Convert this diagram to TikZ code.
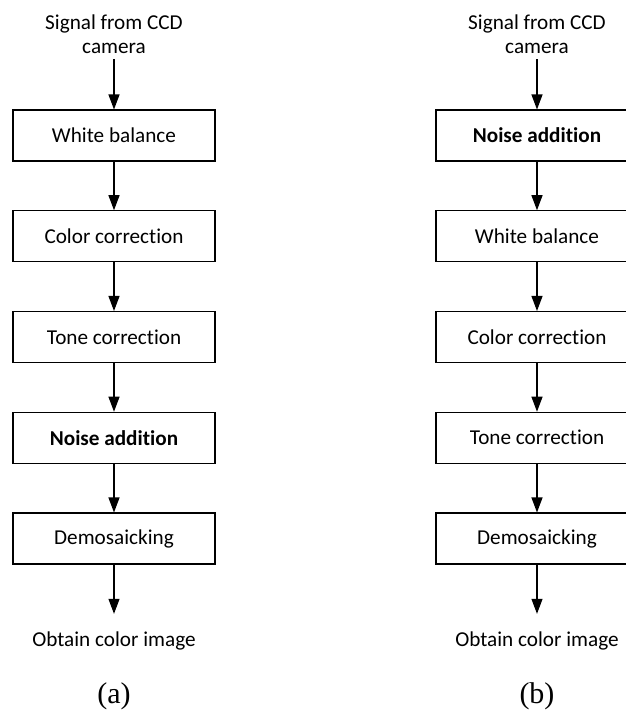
\documentclass[tikz,border=0pt]{standalone}
\usepackage{fontspec}
\setmainfont{Carlito}[Ligatures=NoCommon]
\newfontfamily\capfont{Liberation Serif}
\usepackage{tikz}
\usetikzlibrary{arrows.meta}

\tikzset{
  stage/.style={draw, line width=0.55pt, minimum width=101pt, minimum height=25.5pt,
    inner sep=0pt, font=\fontsize{10.6}{12}\selectfont},
  source/.style={inner sep=0pt, outer sep=3pt, align=center, font=\fontsize{10.6}{12}\selectfont},
  sink/.style={inner sep=0pt, outer sep=9pt, font=\fontsize{10.6}{12}\selectfont},
  caption/.style={inner sep=0pt, font=\capfont\fontsize{15}{17}\selectfont},
  flow/.style={-{Triangle[length=7.5pt,width=5.5pt]}, line width=0.55pt}
}

\begin{document}
\begin{tikzpicture}[x=0.5pt, y=-0.5pt]
    \useasboundingbox (0,0) rectangle (626,720);
    % ---- (a) ----
    \begin{scope}
      \node[source] (a0) at (114,34) {Signal from CCD\\camera};
      \node[stage] (a1) at (114,135.5) {White balance};
      \node[stage] (a2) at (114,236.25) {Color correction};
      \node[stage] (a3) at (114,337) {Tone correction};
      \node[stage] (a4) at (114,437.75) {\bfseries Noise addition};
      \node[stage] (a5) at (114,538.5) {Demosaicking};
      \node[sink] (a6) at (114,641) {Obtain color image};
      \node[caption] (acap) at (114,696) {(a)};
      \draw[flow] (a0) -- (a1);
      \draw[flow] (a1) -- (a2);
      \draw[flow] (a2) -- (a3);
      \draw[flow] (a3) -- (a4);
      \draw[flow] (a4) -- (a5);
      \draw[flow] (a5) -- (a6);
    \end{scope}
    % ---- (b) ----
    \begin{scope}[xshift=211.5pt]
      \node[source] (b0) at (114,34) {Signal from CCD\\camera};
      \node[stage] (b1) at (114,135.5) {\bfseries Noise addition};
      \node[stage] (b2) at (114,236.25) {White balance};
      \node[stage] (b3) at (114,337) {Color correction};
      \node[stage] (b4) at (114,437.75) {Tone correction};
      \node[stage] (b5) at (114,538.5) {Demosaicking};
      \node[sink] (b6) at (114,641) {Obtain color image};
      \node[caption] (bcap) at (114,696) {(b)};
      \draw[flow] (b0) -- (b1);
      \draw[flow] (b1) -- (b2);
      \draw[flow] (b2) -- (b3);
      \draw[flow] (b3) -- (b4);
      \draw[flow] (b4) -- (b5);
      \draw[flow] (b5) -- (b6);
    \end{scope}
  \end{tikzpicture}
\end{document}
